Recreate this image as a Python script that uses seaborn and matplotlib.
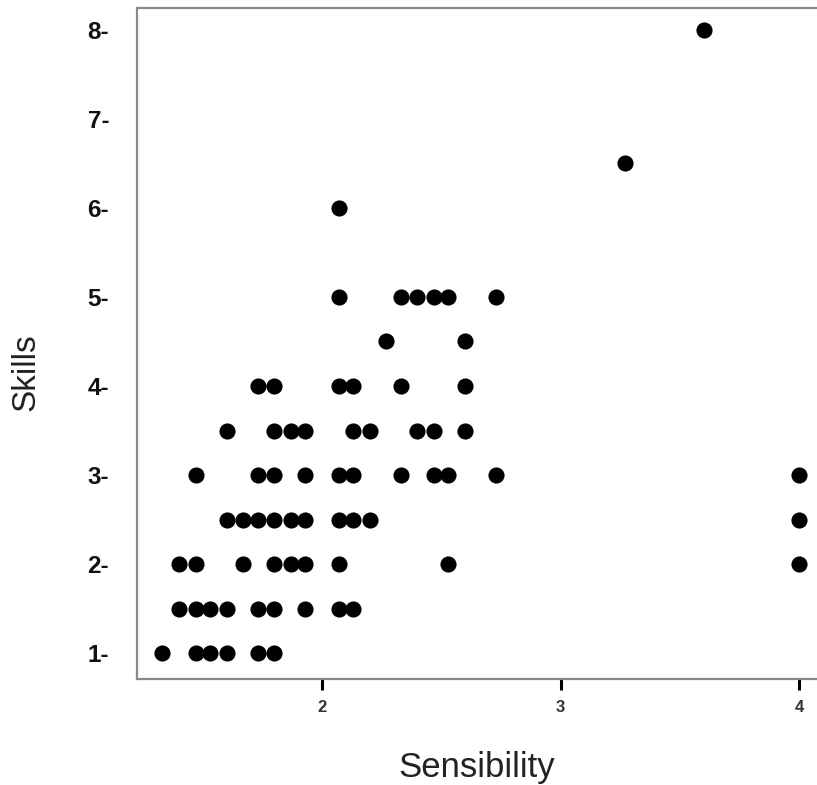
import matplotlib
matplotlib.use("Agg")
import matplotlib.pyplot as plt
import seaborn as sns
import pandas as pd

# data, one row of dots per skills level
sensibility = [
    1.33, 1.47, 1.53, 1.60, 1.73, 1.80,                                  # 1.0
    1.40, 1.47, 1.53, 1.60, 1.73, 1.80, 1.93, 2.07, 2.13,                # 1.5
    1.40, 1.47, 1.67, 1.80, 1.87, 1.93, 2.07, 2.53, 4.00,                # 2.0
    1.60, 1.67, 1.73, 1.80, 1.87, 1.93, 2.07, 2.13, 2.20, 4.00,          # 2.5
    1.47, 1.73, 1.80, 1.93, 2.07, 2.13, 2.33, 2.47, 2.53, 2.73, 4.00,    # 3.0
    1.60, 1.80, 1.87, 1.93, 2.13, 2.20, 2.40, 2.47, 2.60,                # 3.5
    1.73, 1.80, 2.07, 2.13, 2.33, 2.60,                                  # 4.0
    2.27, 2.60,                                                          # 4.5
    2.07, 2.33, 2.40, 2.47, 2.53, 2.73,                                  # 5.0
    2.07,                                                                # 6.0
    3.27,                                                                # 6.5
    3.60,                                                                # 8.0
]
skills = (
    [1.0] * 6 + [1.5] * 9 + [2.0] * 9 + [2.5] * 10 + [3.0] * 11 + [3.5] * 9
    + [4.0] * 6 + [4.5] * 2 + [5.0] * 6 + [6.0] + [6.5] + [8.0]
)
x_ticks = [2, 3, 4]
y_ticks = [1, 2, 3, 4, 5, 6, 7, 8]
y_tick_labels = [f"{v}-" for v in y_ticks]

df = pd.DataFrame({"Sensibility": sensibility, "Skills": skills})

sns.set_style("white")
plt.rcParams["font.family"] = ["Liberation Sans", "DejaVu Sans"]

fig = plt.figure(figsize=(8.17, 7.85), dpi=100)
ax = fig.add_axes([137 / 817, 106 / 785, 680 / 817, 671 / 785])

sns.scatterplot(data=df, x="Sensibility", y="Skills", color="black",
                s=135, linewidth=0, ax=ax)

ax.set_xlim(1.224, 4.075)
ax.set_ylim(0.708, 8.247)

for side in ["left", "bottom", "top"]:
    ax.spines[side].set_color("#8a8a8a")
    ax.spines[side].set_linewidth(1.6)
ax.spines["right"].set_visible(False)

ax.set_xticks(x_ticks)
ax.set_xticklabels([str(v) for v in x_ticks], fontsize=12, fontweight="bold",
                   color="#333333")
ax.tick_params(axis="x", direction="out", length=8, width=2.2, color="black",
               pad=7, bottom=True)

ax.set_yticks(y_ticks)
ax.set_yticklabels(y_tick_labels, fontsize=17.5, fontweight="bold",
                   color="#111111")
ax.tick_params(axis="y", length=0, pad=20)

ax.set_xlabel("Sensibility", fontsize=25, color="#222222")
ax.set_ylabel("Skills", fontsize=24, color="#222222")
ax.xaxis.set_label_coords(0.5, -0.108)
ax.yaxis.set_label_coords(-0.14, 0.4575)

fig.savefig("out.png", dpi=100)
